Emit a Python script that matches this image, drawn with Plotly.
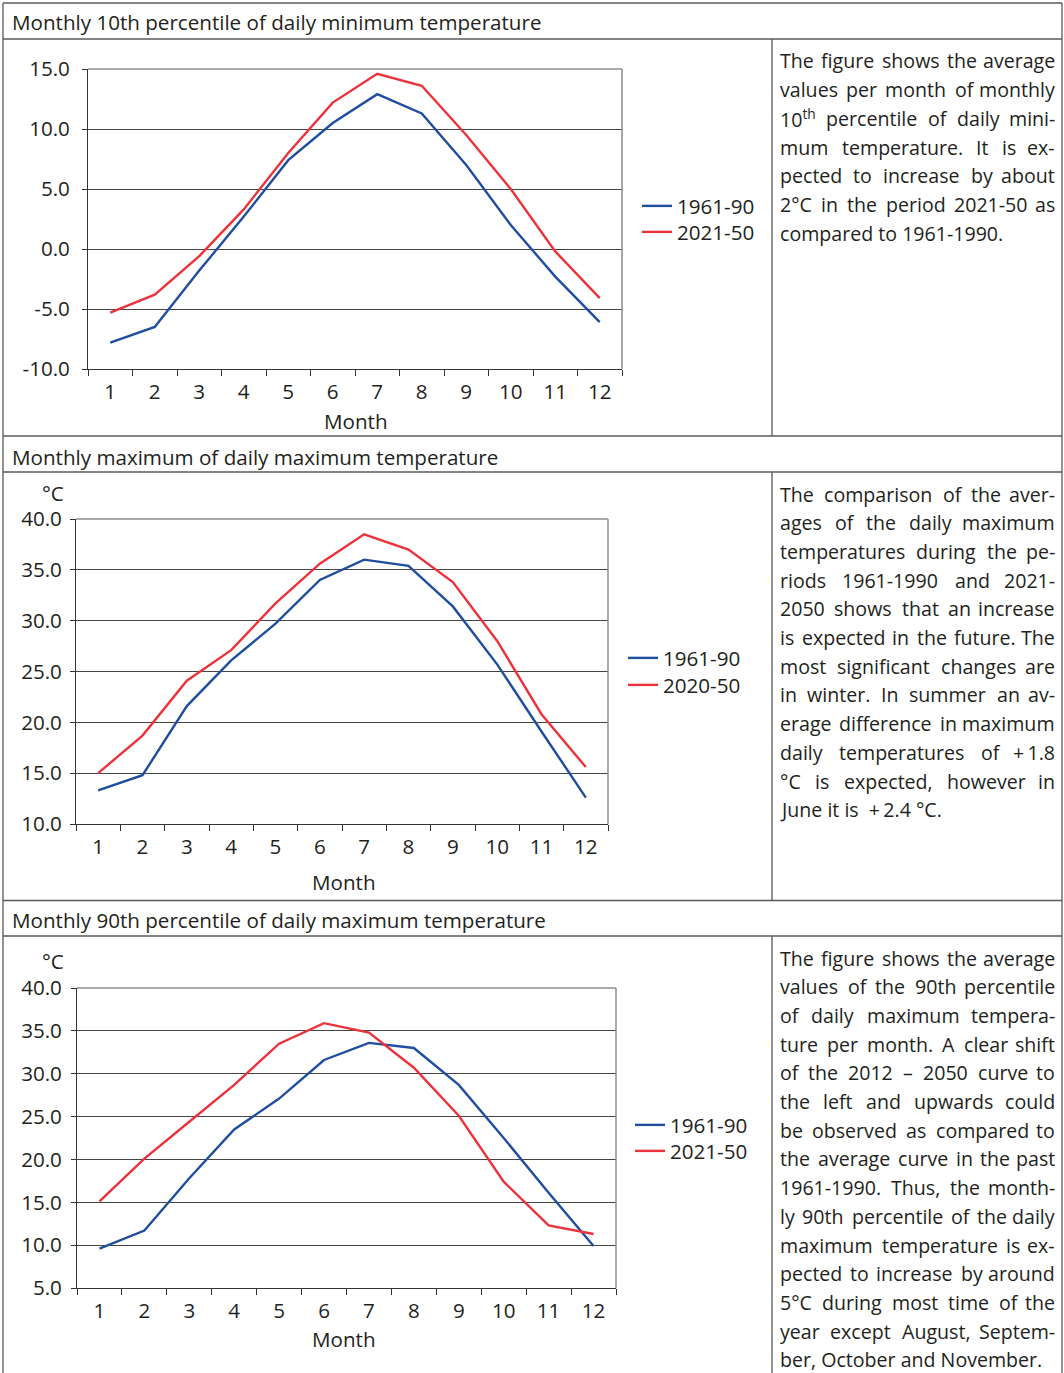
import re
import plotly.graph_objects as go

# ---------------------------------------------------------------- data
months = ["1", "2", "3", "4", "5", "6", "7", "8", "9", "10", "11", "12"]

# Monthly 10th percentile of daily minimum temperature (°C)
tmin_p10_1961_90 = [-7.8, -6.5, -1.8, 2.7, 7.4, 10.5, 12.9, 11.3, 7.0, 2.0, -2.3, -6.1]
tmin_p10_2021_50 = [-5.3, -3.8, -0.6, 3.3, 8.0, 12.2, 14.6, 13.6, 9.5, 5.0, -0.2, -4.1]

# Monthly maximum of daily maximum temperature (°C)
tmax_max_1961_90 = [13.3, 14.8, 21.6, 26.1, 29.7, 34.0, 36.0, 35.4, 31.4, 25.7, 19.1, 12.6]
tmax_max_2020_50 = [15.0, 18.7, 24.1, 27.1, 31.7, 35.6, 38.5, 37.0, 33.8, 28.0, 20.8, 15.6]

# Monthly 90th percentile of daily maximum temperature (°C)
tmax_p90_1961_90 = [9.6, 11.7, 17.8, 23.5, 27.1, 31.6, 33.6, 33.0, 28.7, 22.5, 16.1, 9.9]
tmax_p90_2021_50 = [15.1, 20.1, 24.4, 28.7, 33.5, 35.9, 34.8, 30.7, 25.1, 17.4, 12.3, 11.3]

series_names_1 = ["1961-90", "2021-50"]
series_names_2 = ["1961-90", "2020-50"]
series_names_3 = ["1961-90", "2021-50"]

yticks_1 = [-10, -5, 0, 5, 10, 15]
yticks_2 = [10, 15, 20, 25, 30, 35, 40]
yticks_3 = [5, 10, 15, 20, 25, 30, 35, 40]
ytick_labels_1 = ["-10.0", "-5.0", "0.0", "5.0", "10.0", "15.0"]
ytick_labels_2 = ["10.0", "15.0", "20.0", "25.0", "30.0", "35.0", "40.0"]
ytick_labels_3 = ["5.0", "10.0", "15.0", "20.0", "25.0", "30.0", "35.0", "40.0"]

titles = [
    "Monthly 10th percentile of daily minimum temperature",
    "Monthly maximum of daily maximum temperature",
    "Monthly 90th percentile of daily maximum temperature",
]

caption_1 = [
    "The figure shows the average",
    "values per month of monthly",
    "10<sup>th</sup> percentile of daily mini-",
    "mum temperature. It is ex-",
    "pected to increase by about",
    "2°C in the period 2021-50 as",
    "compared to 1961-1990.",
]
caption_2 = [
    "The comparison of the aver-",
    "ages of the daily maximum",
    "temperatures during the pe-",
    "riods 1961-1990 and 2021-",
    "2050 shows that an increase",
    "is expected in the future. The",
    "most significant changes are",
    "in winter. In summer an av-",
    "erage difference in maximum",
    "daily temperatures of +\u20091.8",
    "°C is expected, however in",
    "June it is  +\u20092.4 °C.",
]
caption_3 = [
    "The figure shows the average",
    "values of the 90th percentile",
    "of daily maximum tempera-",
    "ture per month. A clear shift",
    "of the 2012 – 2050 curve to",
    "the left and upwards could",
    "be observed as compared to",
    "the average curve in the past",
    "1961-1990. Thus, the month-",
    "ly 90th percentile of the daily",
    "maximum temperature is ex-",
    "pected to increase by around",
    "5°C during most time of the",
    "year except August, Septem-",
    "ber, October and November.",
]

# ---------------------------------------------------------------- page geometry
W, H = 1064, 1373
FONT = "Open Sans"
INK = "#231f20"
BLUE = "#1f4ea0"
RED = "#ec323a"
AXIS = "#333333"
GRID = "#444444"
FRAME = "#8c8c8c"
RULE = "#5a5a5a"
FS = 20.6        # chart and heading text
FS_CAP = 19.6    # caption column text


def px(x):
    return x / W


def py(y):
    return 1 - y / H


panels = [
    dict(x=(88, 622), y=(69, 369), yr=(-10, 15), yt=yticks_1, yl=ytick_labels_1,
         series=(tmin_p10_1961_90, tmin_p10_2021_50), names=series_names_1,
         legend_x=637, legend_y=(206, 232), month=(356, 421), unit=None, ystand=8,
         caption=caption_1, cap_y=61),
    dict(x=(76, 608), y=(519, 824), yr=(10, 40), yt=yticks_2, yl=ytick_labels_2,
         series=(tmax_max_1961_90, tmax_max_2020_50), names=series_names_2,
         legend_x=623, legend_y=(658, 685), month=(344, 882), unit=(53, 493), ystand=4,
         caption=caption_2, cap_y=494),
    dict(x=(77, 616), y=(988, 1288), yr=(5, 40), yt=yticks_3, yl=ytick_labels_3,
         series=(tmax_p90_1961_90, tmax_p90_2021_50), names=series_names_3,
         legend_x=630, legend_y=(1125, 1151), month=(344, 1339), unit=(53, 961), ystand=5,
         caption=caption_3, cap_y=958),
]
header_y = [22, 457, 920]

fig = go.Figure()
layout = {}
shapes = []
annotations = []


def note(text, x, y, xanchor="left", size=FS):
    annotations.append(dict(text=text, x=px(x), y=py(y), xref="paper", yref="paper",
                            xanchor=xanchor, yanchor="middle", showarrow=False,
                            borderpad=0, font=dict(family=FONT, size=size, color=INK)))


legend_no = 0
for i, p in enumerate(panels, 1):
    sfx = "" if i == 1 else str(i)
    xa, ya = "x" + sfx, "y" + sfx
    for vals, name, color, ly in zip(p["series"], p["names"], (BLUE, RED), p["legend_y"]):
        legend_no += 1
        leg = "legend" if legend_no == 1 else "legend%d" % legend_no
        fig.add_trace(go.Scatter(
            x=months, y=vals, name=name, mode="lines",
            line=dict(color=color, width=2.4),
            xaxis=xa, yaxis=ya, legend=leg,
        ))
        layout[leg] = dict(
            x=px(p["legend_x"]), y=py(ly), xanchor="left", yanchor="middle",
            bgcolor="rgba(0,0,0,0)", borderwidth=0,
            font=dict(family=FONT, size=FS, color=INK),
        )
    x0, x1 = p["x"]
    y0, y1 = p["y"]
    layout["xaxis" + sfx] = dict(
        domain=[px(x0), px(x1)], anchor=ya, type="category",
        categoryorder="array", categoryarray=months, range=[-0.5, 11.5],
        tickson="boundaries", ticks="outside", ticklen=6, tickcolor=AXIS,
        showline=True, linecolor=AXIS, linewidth=1, showgrid=False,
        zeroline=False, ticklabelstandoff=4, fixedrange=True,
        tickfont=dict(family=FONT, size=FS, color=INK),
    )
    layout["yaxis" + sfx] = dict(
        domain=[py(y1), py(y0)], anchor=xa, range=list(p["yr"]),
        tickmode="array", tickvals=p["yt"], ticktext=p["yl"],
        ticks="outside", ticklen=5, tickcolor=AXIS,
        showline=True, linecolor=AXIS, linewidth=1,
        showgrid=True, gridcolor=GRID, gridwidth=1, zeroline=False,
        ticklabelstandoff=p["ystand"], fixedrange=True,
        tickfont=dict(family=FONT, size=FS, color=INK),
    )
    # grey frame on the top and right edges of the plot area
    shapes.append(dict(type="line", xref=xa + " domain", yref=ya + " domain",
                       x0=0, x1=1, y0=1, y1=1, line=dict(color=FRAME, width=1.5)))
    shapes.append(dict(type="line", xref=xa + " domain", yref=ya + " domain",
                       x0=1, x1=1, y0=0, y1=1, line=dict(color=FRAME, width=1.5)))
    mx, my = p["month"]
    note("Month", mx, my, xanchor="center")
    if p["unit"]:
        ux, uy = p["unit"]
        note("°C", ux, uy, xanchor="center")
    note(titles[i - 1], 11, header_y[i - 1])

# ---------------------------------------------------------------- justified captions
ADV = {" ": 260, "\u2009": 130, "a": 556, "b": 613, "c": 480, "d": 613, "e": 561,
       "f": 336, "g": 548, "h": 613, "i": 253, "j": 253, "k": 525, "l": 253,
       "m": 930, "n": 613, "o": 604, "p": 613, "q": 613, "r": 408, "s": 477,
       "t": 353, "u": 613, "v": 500, "w": 775, "x": 518, "y": 500, "z": 465,
       ".": 266, ",": 245, "-": 322, "–": 500, "°": 428, "+": 572,
       "T": 556, "I": 279, "A": 633, "S": 549, "O": 780, "N": 801, "J": 268, "C": 632}
for d in "0123456789":
    ADV[d] = 572


def text_width(word, size):
    total = 0.0
    for part in re.split(r"(<sup>.*?</sup>)", word):
        if part.startswith("<sup>"):
            total += 0.7 * sum(ADV.get(ch, 560) for ch in part[5:-6])
        else:
            total += sum(ADV.get(ch, 560) for ch in part)
    return total * size / 1000


TEXT_L, TEXT_R = 779, 1056
LINE_H = 28.7


def place_line(line, yc, justify):
    if not justify:
        note(line, TEXT_L, yc, size=FS_CAP)
        return
    words = [w for w in line.split(" ") if w]
    widths = [text_width(w, FS_CAP) for w in words]
    gap = (TEXT_R - TEXT_L - sum(widths)) / (len(words) - 1)
    x = TEXT_L
    for k, (w, wd) in enumerate(zip(words, widths)):
        if k == len(words) - 1:
            note(w, TEXT_R, yc, xanchor="right", size=FS_CAP)
        else:
            note(w, x, yc, size=FS_CAP)
        x += wd + gap


for p in panels:
    lines = p["caption"]
    for k, line in enumerate(lines):
        place_line(line, p["cap_y"] + k * LINE_H, k < len(lines) - 1)

# ---------------------------------------------------------------- table rules
def hline(y, xa=3, xb=1062):
    shapes.append(dict(type="line", xref="paper", yref="paper", x0=px(xa), x1=px(xb),
                       y0=py(y), y1=py(y), line=dict(color=RULE, width=1.3)))


def vline(x, ya, yb):
    shapes.append(dict(type="line", xref="paper", yref="paper", x0=px(x), x1=px(x),
                       y0=py(ya), y1=py(yb), line=dict(color=RULE, width=1.3)))


for y in (3, 39, 436, 472, 900.5, 936):
    hline(y)
vline(3, 3, H)
vline(1062, 3, H)
vline(772, 39, 436)
vline(772, 472, 900.5)
vline(772, 936, H)

layout.update(dict(
    width=W, height=H, margin=dict(l=0, r=0, t=0, b=0, autoexpand=False),
    paper_bgcolor="white", plot_bgcolor="white",
    font=dict(family=FONT, size=FS, color=INK),
    showlegend=True, shapes=shapes, annotations=annotations,
    hovermode=False,
))
fig.update_layout(**layout)
fig.write_html("out.html")
